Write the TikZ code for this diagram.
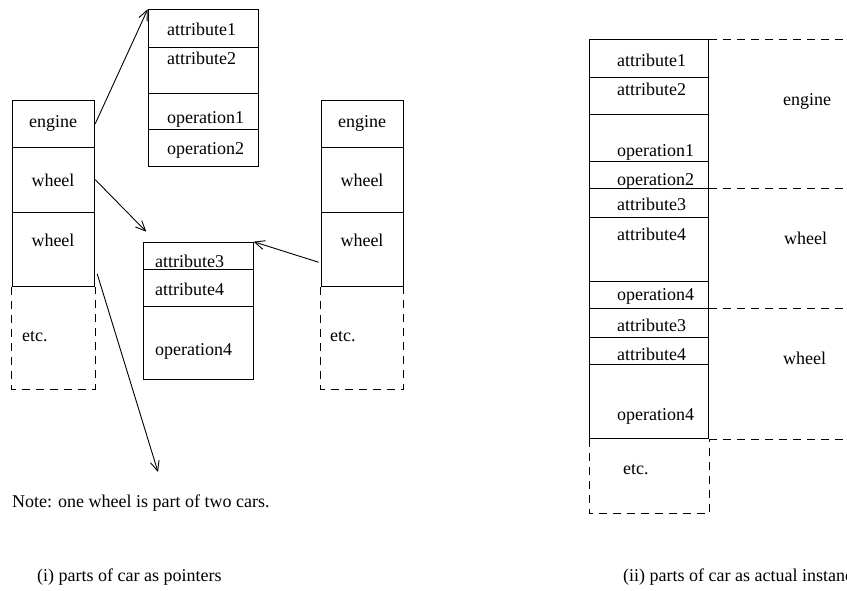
\documentclass[tikz,border=0pt]{standalone}
\usepackage{fontspec}
\setmainfont{Liberation Serif}
\usetikzlibrary{arrows.meta,calc}

\begin{document}
\begin{tikzpicture}[x=1pt,y=-1pt,
  font=\fontsize{18}{21}\selectfont,
  cellbox/.style n args={2}{draw, line width=0.9pt, rectangle, inner sep=0pt,
    anchor=north west, minimum width=#1pt, minimum height=#2pt},
  lbl/.style={inner sep=0pt, text height=12pt, text depth=4pt},
  lftlbl/.style={lbl, anchor=west},
  dashline/.style={line width=0.8pt, dash pattern=on 8pt off 6pt},
  ptr/.style={line width=0.9pt, -{Straight Barb[length=10pt,width=9pt,line width=0.9pt]}}]
\useasboundingbox (0,0) rectangle (847,591);
\clip (0,0) rectangle (847,591);

% ---- (i) car as pointers: left car ----
\node[cellbox={82.6}{46.7}] (lE)  at (11.7,100)   {};
\node[cellbox={82.6}{65}]   (lW1) at (11.7,146.7) {};
\node[cellbox={82.6}{74.3}] (lW2) at (11.7,211.7) {};
\node[lbl] (lEt)  at (53,124) {engine};
\node[lbl] (lW1t) at (53,183) {wheel};
\node[lbl] (lW2t) at (53,243) {wheel};
\draw[dashline] (lW2.south west) -- ++(0,102) -| (lW2.south east);
\node[lftlbl] (lEtc) at (22,337) {etc.};

% ---- second car ----
\node[cellbox={82}{46.7}] (rE)  at (320.7,100)   {};
\node[cellbox={82}{65}]   (rW1) at (320.7,146.7) {};
\node[cellbox={82}{74.3}] (rW2) at (320.7,211.7) {};
\node[lbl] (rEt)  at (362,124) {engine};
\node[lbl] (rW1t) at (362,183) {wheel};
\node[lbl] (rW2t) at (362,243) {wheel};
\draw[dashline] (rW2.south west) -- ++(0,102) -| (rW2.south east);
\node[lftlbl] (rEtc) at (330,337) {etc.};

% ---- engine object ----
\node[cellbox={110.6}{37.4}] (a1) at (147.7,9.3)  {};
\node[cellbox={110.6}{46}]   (a2) at (147.7,46.7) {};
\node[cellbox={110.6}{36.6}] (o1) at (147.7,92.7) {};
\node[cellbox={110.6}{36.7}] (o2) at (147.7,129.3) {};
\node[lftlbl] (a1t) at (167,32)  {attribute1};
\node[lftlbl] (a2t) at (167,61)  {attribute2};
\node[lftlbl] (o1t) at (167,120) {operation1};
\node[lftlbl] (o2t) at (167,151) {operation2};

% ---- wheel object ----
\node[cellbox={109.4}{27.3}] (c1) at (143.3,241.7) {};
\node[cellbox={109.4}{37}]   (c2) at (143.3,269)   {};
\node[cellbox={109.4}{73.3}] (c3) at (143.3,306)   {};
\node[lftlbl] (c1t) at (155,263)   {attribute3};
\node[lftlbl] (c2t) at (155,291.5) {attribute4};
\node[lftlbl] (c3t) at (155,351.5) {operation4};

% ---- pointers ----
\coordinate (free) at (158,472);
\draw[ptr] (lE.east) -- (a1.north west);
\draw[ptr] (lW1.east) -- ($(c1.north west)+(3,-10)$);
\draw[ptr] ($(lW2.south east)+(2,-13)$) -- (free);
\draw[ptr] ($(rW2.west)+(-2,13)$) -- (c1.north east);

\node[lftlbl] (note) at (12,503) {Note: one wheel is part of two cars.};
\node[lftlbl] (cap1) at (37,577) {(i) parts of car as pointers};

% ---- (ii) car as actual instances ----
\node[cellbox={119}{37.4}] (b1)  at (589,39.3)  {};
\node[cellbox={119}{37.3}] (b2)  at (589,76.7)  {};
\node[cellbox={119}{46.7}] (b3)  at (589,114)   {};
\node[cellbox={119}{27.6}] (b4)  at (589,160.7) {};
\node[cellbox={119}{28.4}] (b5)  at (589,188.3) {};
\node[cellbox={119}{64.3}] (b6)  at (589,216.7) {};
\node[cellbox={119}{27.3}] (b7)  at (589,281)   {};
\node[cellbox={119}{28.4}] (b8)  at (589,308.3) {};
\node[cellbox={119}{27.3}] (b9)  at (589,336.7) {};
\node[cellbox={119}{74.3}] (b10) at (589,364)   {};
\node[lftlbl] (b1t)  at (617,62.5)  {attribute1};
\node[lftlbl] (b2t)  at (617,91.5)  {attribute2};
\node[lftlbl] (b3t)  at (617,153)   {operation1};
\node[lftlbl] (b4t)  at (617,182)   {operation2};
\node[lftlbl] (b5t)  at (617,206.5) {attribute3};
\node[lftlbl] (b6t)  at (617,236.5) {attribute4};
\node[lftlbl] (b7t)  at (617,297)   {operation4};
\node[lftlbl] (b8t)  at (617,327)   {attribute3};
\node[lftlbl] (b9t)  at (617,356.5) {attribute4};
\node[lftlbl] (b10t) at (617,416)   {operation4};
\draw[dashline] (b10.south west) -- ++(0,74.4) -| (b10.south east);
\node[lftlbl] (bEtc) at (623,470) {etc.};

% part boundaries
\draw[dashline] (b1.north east) -- +(140,0);
\draw[dashline] (b5.north east) -- +(140,0);
\draw[dashline] (b8.north east) -- +(140,0);
\draw[dashline] (b10.south east) -- +(140,0);
\node[lftlbl] (pE)  at (783,102) {engine};
\node[lftlbl] (pW1) at (784,240) {wheel};
\node[lftlbl] (pW2) at (783,360) {wheel};

\node[lftlbl] (cap2) at (623,577) {(ii) parts of car as actual instances};
\end{tikzpicture}
\end{document}
